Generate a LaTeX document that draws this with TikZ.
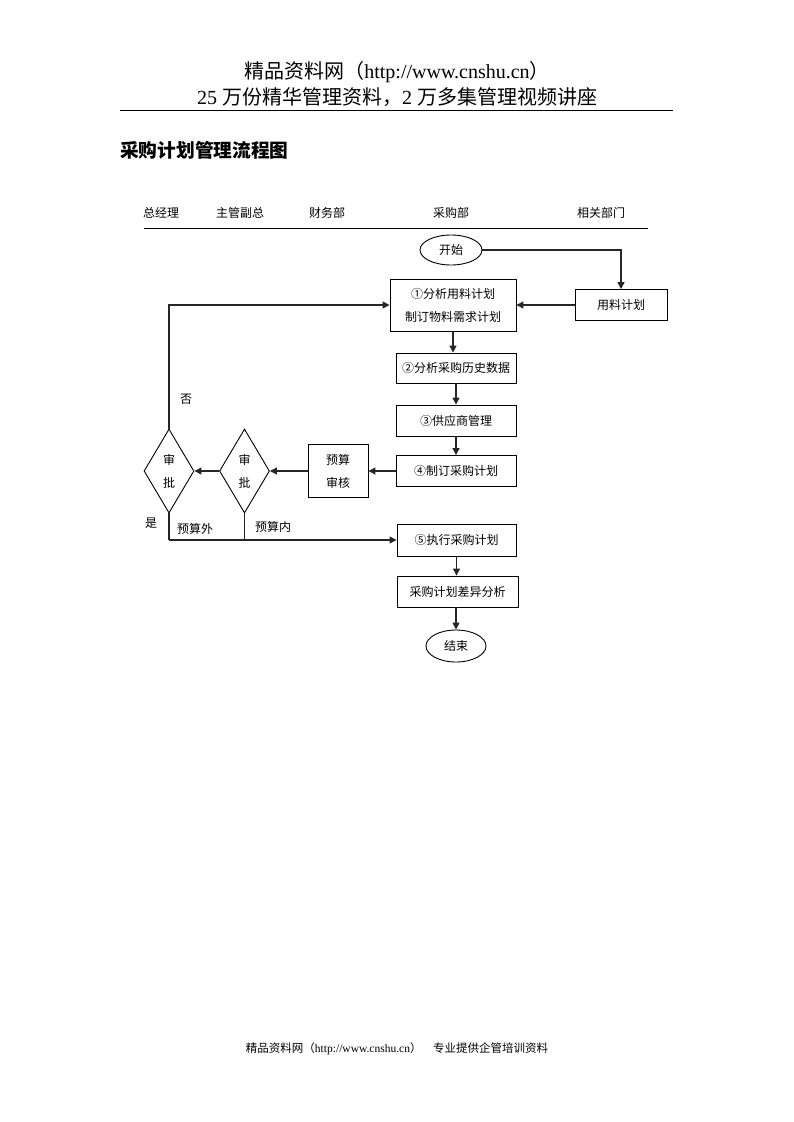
\documentclass[tikz,border=0pt]{standalone}
\usepackage{fontspec}
\setmainfont{Liberation Serif}
\newfontfamily\cjk{Noto Sans CJK SC}
\usetikzlibrary{shapes.geometric,arrows.meta}
\tikzset{
  txt/.style={font=\cjk\fontsize{12}{14}\selectfont, inner sep=0pt},
  box/.style={draw=black, line width=0.9pt, inner sep=0pt, align=center,
    font=\cjk\fontsize{12}{23}\selectfont},
  term/.style={box, ellipse},
  dec/.style={box, diamond, minimum width=50pt, minimum height=84pt},
  conn/.style={draw=black!85, line width=1.2pt},
  arr/.style={conn, -{Triangle[length=7pt,width=7pt]}}
}
\begin{document}
\begin{tikzpicture}[x=1pt,y=-1pt]
\useasboundingbox[fill=white] (0,0) rectangle (793,1122);
% header
\node[inner sep=0pt, font=\fontsize{20}{22}\selectfont] (h1) at (397,72)
  {{\cjk 精品资料网（}http://www.cnshu.cn{\cjk ）}};
\node[inner sep=0pt, font=\fontsize{20}{22}\selectfont] (h2) at (397,97)
  {25 {\cjk 万份精华管理资料，}2 {\cjk 万多集管理视频讲座}};
\coordinate (r1) at (120,110);
\coordinate (r2) at (673,110);
\draw[line width=0.8pt] (r1) -- (r2);
\node[anchor=west, inner sep=0pt, font=\cjk\bfseries\fontsize{18.7}{20}\selectfont] (title) at (120,150) {采购计划管理流程图};
% lane headers
\node[txt] (l1) at (161,213) {总经理};
\node[txt] (l2) at (240,213) {主管副总};
\node[txt] (l3) at (327,213) {财务部};
\node[txt] (l4) at (451,213) {采购部};
\node[txt] (l5) at (601,213) {相关部门};
\coordinate (s1) at (144,228);
\coordinate (s2) at (648,228);
\draw[line width=0.8pt] (s1) -- (s2);
% nodes
\node[term, minimum width=62pt, minimum height=30pt] (start) at (451,250) {开始};
\node[box, minimum width=92pt, minimum height=31pt] (yl) at (621,305) {用料计划};
\node[box, minimum width=126pt, minimum height=52pt] (b1) at (453,305) {①分析用料计划\\制订物料需求计划};
\node[box, minimum width=120pt, minimum height=30pt] (b2) at (456,368) {②分析采购历史数据};
\node[box, minimum width=120pt, minimum height=31pt] (b3) at (456,420.5) {③供应商管理};
\node[box, minimum width=120pt, minimum height=31pt] (b4) at (456,471) {④制订采购计划};
\node[box, minimum width=60pt, minimum height=53pt] (ys) at (338,471) {预算\\审核};
\node[dec] (d2) at (244.5,471) {审\\批};
\node[dec] (d1) at (169,471) {审\\批};
\node[box, minimum width=119pt, minimum height=32pt] (b5) at (456.5,540) {⑤执行采购计划};
\node[box, minimum width=121pt, minimum height=31pt] (b6) at (457.5,591.5) {采购计划差异分析};
\node[term, minimum width=60pt, minimum height=32pt] (end) at (456,646) {结束};
% labels
\node[txt] (no) at (186,399) {否};
\node[txt] (yes) at (151,523) {是};
\node[txt] (yw) at (195,529) {预算外};
\node[txt] (yn) at (273,527) {预算内};
% connectors
\draw[arr] (start.east) -| (yl.north);
\draw[arr] (yl.west) -- (b1.east);
\draw[arr] (d1.north) |- (b1.west);
\draw[arr] (b1.south -| b2.north) ++(-3,0) coordinate (b1s) -- (b1s |- b2.north);
\draw[arr] (b2.south) -- (b3.north);
\draw[arr] (b3.south) -- (b4.north);
\draw[arr] (b4.west) -- (ys.east);
\draw[arr] (ys.west) -- (d2.east);
\draw[arr] (d2.west) -- (d1.east);
\coordinate (j1) at (169,540);
\coordinate (j2) at (244.5,540);
\draw[conn] (d1.south) -- (j1);
\draw[conn] (d2.south) -- (j2);
\draw[arr] (j1) -- (b5.west);
\draw[arr] (b5.south -| b6.north) ++(-1,0) coordinate (b5s) -- (b5s |- b6.north);
\draw[arr] (b6.south -| end.north) -- (end.north);
% footer
\node[inner sep=0pt, font=\fontsize{11.5}{13}\selectfont] (ft) at (397,1049)
  {{\cjk 精品资料网（}http://www.cnshu.cn{\cjk ）\quad 专业提供企管培训资料}};
\end{tikzpicture}
\end{document}
